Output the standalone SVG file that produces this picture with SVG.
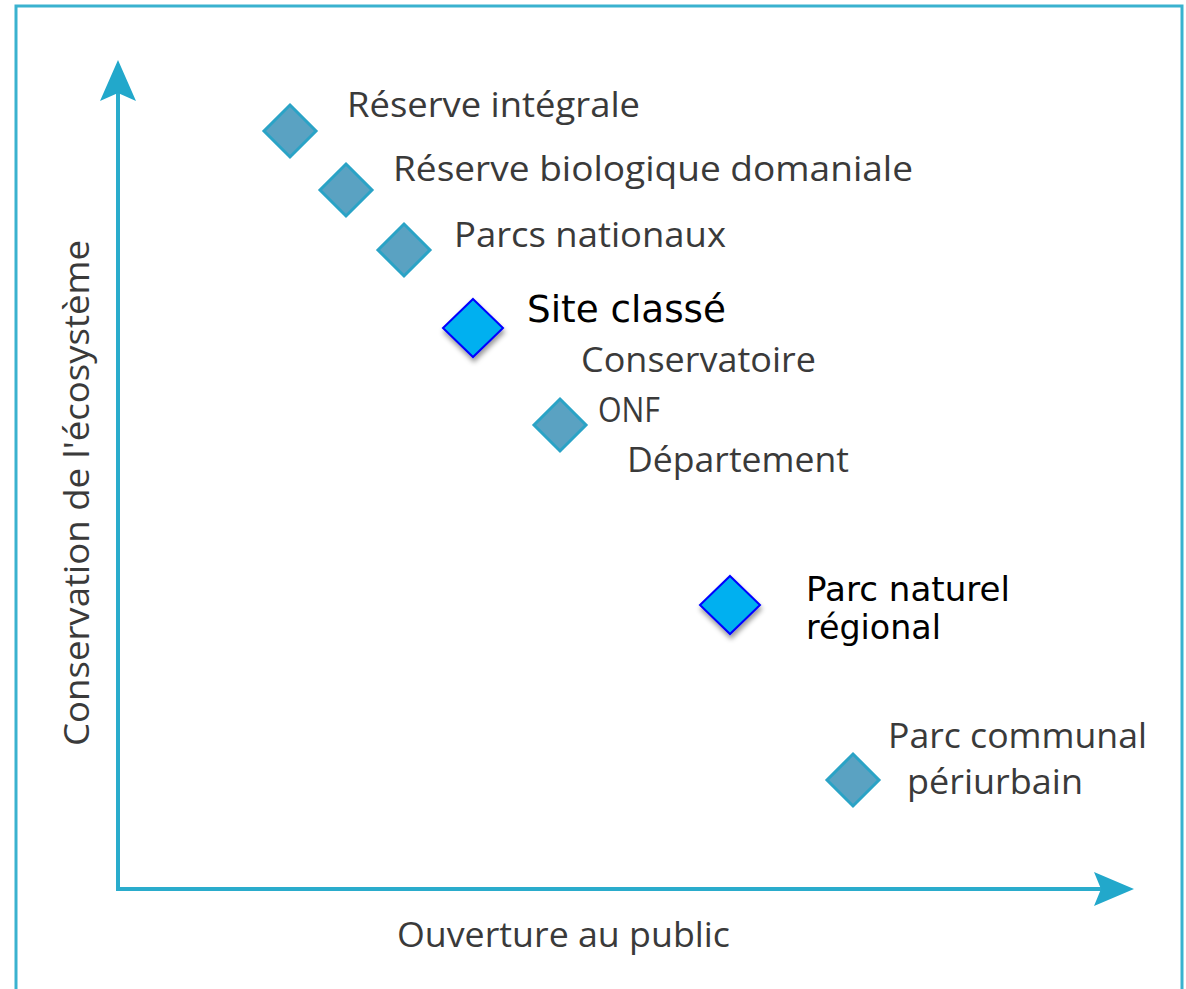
<svg xmlns="http://www.w3.org/2000/svg" width="1186" height="989" viewBox="0 0 1186 989">
  <defs>
    <style>
      .frame { fill: #ffffff; stroke: #3ab2cf; stroke-width: 3; }
      .axis { stroke: #2aaccc; stroke-width: 4; fill: none; }
      .arrowhead { fill: #22a8cb; }
      .old { fill: #5aa2c2; stroke: #2aa3c6; stroke-width: 3; }
      .new { fill: #00b0f0; stroke: #0000ff; stroke-width: 2; filter: url(#shadow); }
      .lbl { font-family: "Open Sans", "Noto Sans", "Liberation Sans", sans-serif; font-size: 35px; fill: #3a3a3a; }
      .nlbl { font-family: "DejaVu Sans", "Liberation Sans", sans-serif; fill: #000000; }
    </style>
    <filter id="shadow" x="-30%" y="-30%" width="160%" height="170%">
      <feDropShadow dx="1" dy="4" stdDeviation="2.5" flood-color="#000000" flood-opacity="0.4"/>
    </filter>
  </defs>

  <rect class="frame" x="16" y="6" width="1166" height="990"/>

  <g id="connectors">
    <line class="axis" x1="118" y1="889" x2="118" y2="85"/>
    <line class="axis" x1="116" y1="889" x2="1110" y2="889"/>
    <path class="arrowhead" d="M118,60 L136,101 L118,93 L100,101 Z"/>
    <path class="arrowhead" d="M1134,889 L1094,906 L1101,889 L1094,872 Z"/>
  </g>

  <g id="axis-y-label">
    <text class="lbl" transform="translate(89,746) rotate(-90)" textLength="506" lengthAdjust="spacingAndGlyphs">Conservation de l'écosystème</text>
  </g>
  <g id="axis-x-label">
    <text class="lbl" x="397" y="947" textLength="333" lengthAdjust="spacingAndGlyphs">Ouverture au public</text>
  </g>

  <g id="node-reserve-integrale">
    <polygon class="old" points="290,105 316,131 290,157 264,131"/>
    <text class="lbl" x="347" y="117" textLength="293" lengthAdjust="spacingAndGlyphs">Réserve intégrale</text>
  </g>
  <g id="node-reserve-biologique">
    <polygon class="old" points="346,164 372,190 346,216 320,190"/>
    <text class="lbl" x="393" y="181" textLength="520" lengthAdjust="spacingAndGlyphs">Réserve biologique domaniale</text>
  </g>
  <g id="node-parcs-nationaux">
    <polygon class="old" points="404,224 430,250 404,276 378,250"/>
    <text class="lbl" x="454" y="247" textLength="272" lengthAdjust="spacingAndGlyphs">Parcs nationaux</text>
  </g>
  <g id="node-site-classe">
    <polygon class="new" points="473,299 503,328 473,357 443,328"/>
    <text class="nlbl" x="527" y="322" font-size="38" textLength="199" lengthAdjust="spacingAndGlyphs">Site classé</text>
  </g>
  <g id="node-conservatoire">
    <polygon class="old" points="560,399 586,425 560,451 534,425"/>
    <text class="lbl" x="581" y="372" textLength="235" lengthAdjust="spacingAndGlyphs">Conservatoire</text>
    <text class="lbl" x="598" y="422" textLength="62" lengthAdjust="spacingAndGlyphs">ONF</text>
    <text class="lbl" x="627" y="472" textLength="222" lengthAdjust="spacingAndGlyphs">Département</text>
  </g>
  <g id="node-parc-naturel-regional">
    <polygon class="new" points="730,576 760,605 730,634 700,605"/>
    <text class="nlbl" x="806" y="601" font-size="33" textLength="204" lengthAdjust="spacingAndGlyphs">Parc naturel</text>
    <text class="nlbl" x="806" y="639" font-size="33" textLength="135" lengthAdjust="spacingAndGlyphs">régional</text>
  </g>
  <g id="node-parc-communal">
    <polygon class="old" points="853,754 879,780 853,806 827,780"/>
    <text class="lbl" x="888" y="748" textLength="259" lengthAdjust="spacingAndGlyphs">Parc communal</text>
    <text class="lbl" x="907" y="794" textLength="176" lengthAdjust="spacingAndGlyphs">périurbain</text>
  </g>
</svg>
